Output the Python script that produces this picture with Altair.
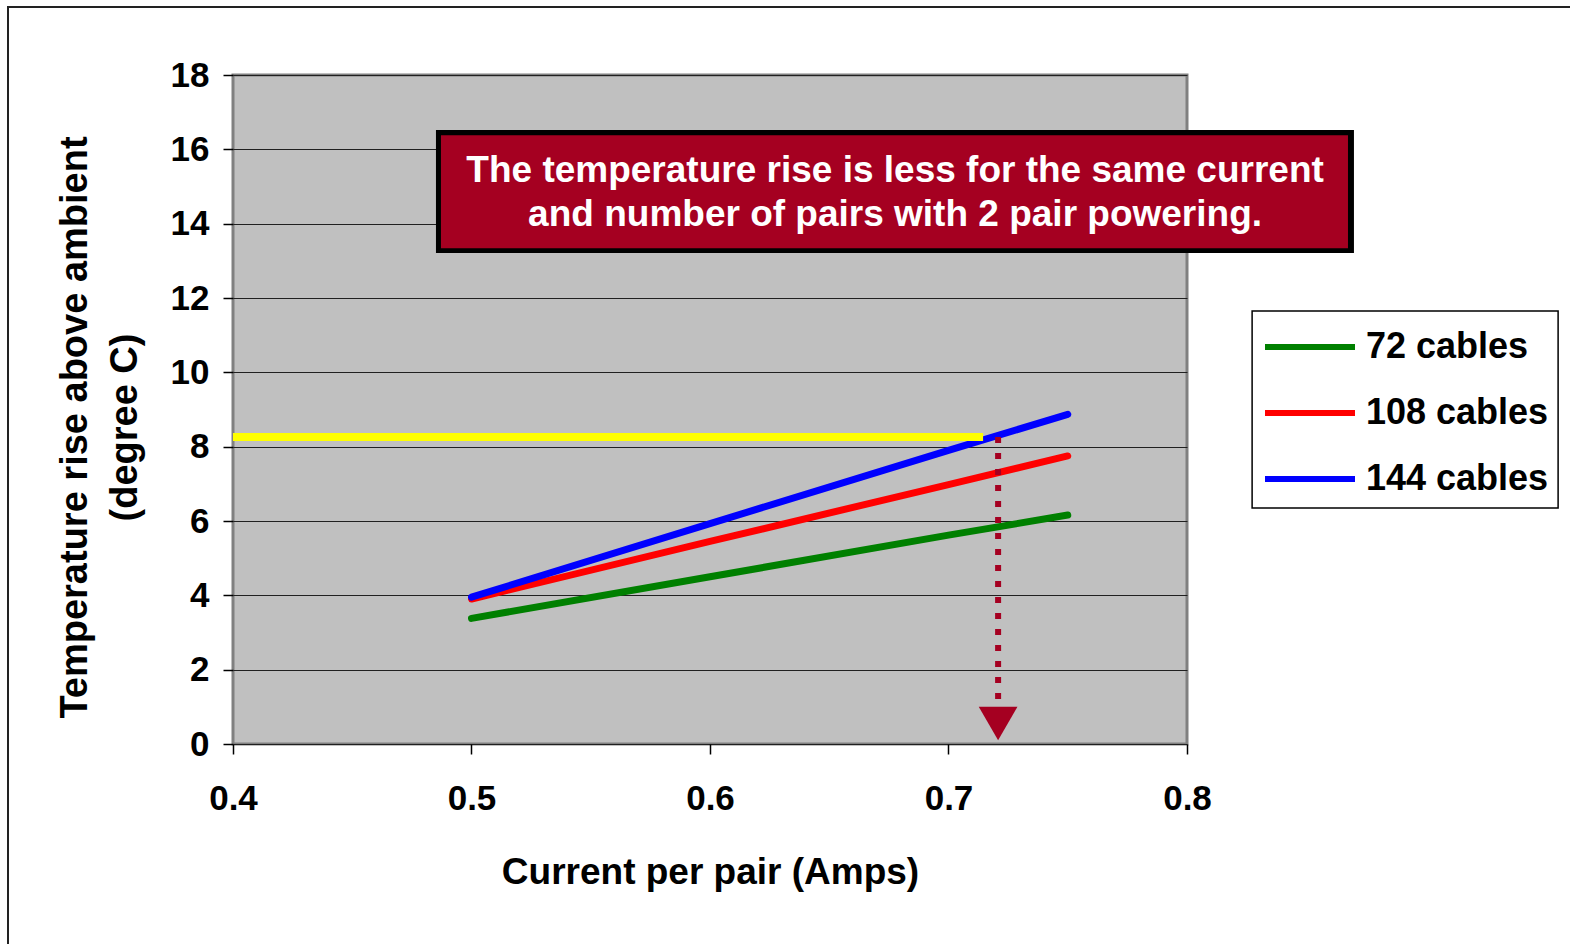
import altair as alt
import pandas as pd

# ---- data ----
currents = [0.5, 0.6, 0.7, 0.75]
rise_72 = [3.38, 4.50, 5.62, 6.16]
rise_108 = [3.90, 5.45, 6.98, 7.75]
rise_144 = [3.95, 5.93, 7.90, 8.87]
series_names = ["72 cables", "108 cables", "144 cables"]
series_colors = ["#008000", "#FF0000", "#0000FF"]

x_ticks = [0.4, 0.5, 0.6, 0.7, 0.8]
y_ticks = [0, 2, 4, 6, 8, 10, 12, 14, 16, 18]

yellow_x = [0.4, 0.7145]
yellow_y = [8.26]
arrow_x = [0.7208]
arrow_y = [8.26, 1.05]
arrow_head_y = [0.55]

box_x = [0.4851, 0.8700]
box_y = [13.21, 16.52]
box_inner_x = [0.4872, 0.8675]
box_inner_y = [13.34, 16.38]
note_lines = ["The temperature rise is less for the same current",
              "and number of pairs with 2 pair powering."]
note_x = [0.6776, 0.6776]
note_y = [15.42, 14.23]

legend_box_x = [0.8273, 0.9556]
legend_box_y = [6.35, 11.65]

FONT = "Liberation Sans"
DARKRED = "#A50021"

rows = []
for name, vals in zip(series_names, [rise_72, rise_108, rise_144]):
    for c, v in zip(currents, vals):
        rows.append({"current": c, "rise": v, "series": name})
df = pd.DataFrame(rows)

W, H = 954, 669
xs = alt.Scale(domain=[0.4, 0.8], nice=False, zero=False)
ys = alt.Scale(domain=[0, 18], nice=False)

base = alt.Chart(df)

lines = base.mark_line(strokeWidth=7, strokeCap="round", strokeJoin="round").encode(
    x=alt.X("current:Q", scale=xs,
            axis=alt.Axis(values=x_ticks, format=".1f", title="Current per pair (Amps)",
                          grid=False, labelPadding=27, titlePadding=38, labelFlush=False,
                          labelOverlap=False)),
    y=alt.Y("rise:Q", scale=ys,
            axis=alt.Axis(values=y_ticks, title=["Temperature rise above ambient", "(degree C)"],
                          grid=True, labelPadding=14, titlePadding=26, titleFontSize=38,
                          titleY=352, labelFlush=False)),
    color=alt.Color("series:N", sort=series_names,
                    scale=alt.Scale(domain=series_names, range=series_colors),
                    legend=alt.Legend(title=None, orient="none", legendX=1029, legendY=224,
                                      symbolType="stroke", symbolSize=8100,
                                      symbolStrokeWidth=6, labelFontSize=36,
                                      labelFont=FONT, labelFontWeight="bold",
                                      labelColor="black", labelOffset=8,
                                      rowPadding=0, padding=0,
                                      labelLimit=400)),
    detail="series:N",
)

border = alt.Chart(pd.DataFrame({"k": [0]})).mark_rect(
    fillOpacity=0, stroke="#222222", strokeWidth=2
).encode(x=alt.value(-225), x2=alt.value(1400), y=alt.value(-68), y2=alt.value(900))

legend_box = alt.Chart(pd.DataFrame({"x": [legend_box_x[0]], "x2": [legend_box_x[1]],
                                     "y": [legend_box_y[0]], "y2": [legend_box_y[1]]})).mark_rect(
    fill="white", stroke="black", strokeWidth=1.5
).encode(x=alt.X("x:Q", scale=xs), x2="x2:Q", y=alt.Y("y:Q", scale=ys), y2="y2:Q")

yellow = alt.Chart(pd.DataFrame({"x": [yellow_x[0]], "x2": [yellow_x[1]], "y": yellow_y})).mark_rule(
    color="#FFFF00", strokeWidth=8
).encode(x=alt.X("x:Q", scale=xs), x2="x2:Q", y=alt.Y("y:Q", scale=ys))

arrow = alt.Chart(pd.DataFrame({"x": arrow_x, "y": [arrow_y[0]], "y2": [arrow_y[1]]})).mark_rule(
    color=DARKRED, strokeWidth=6, strokeDash=[6, 10]
).encode(x=alt.X("x:Q", scale=xs), y=alt.Y("y:Q", scale=ys), y2="y2:Q")

head = alt.Chart(pd.DataFrame({"x": arrow_x, "y": arrow_head_y})).mark_point(
    shape="triangle-down", filled=True, color=DARKRED, size=1500, opacity=1
).encode(x=alt.X("x:Q", scale=xs), y=alt.Y("y:Q", scale=ys))

box_outer = alt.Chart(pd.DataFrame({"x": [box_x[0]], "x2": [box_x[1]], "y": [box_y[0]], "y2": [box_y[1]]})).mark_rect(
    color="black"
).encode(x=alt.X("x:Q", scale=xs), x2="x2:Q", y=alt.Y("y:Q", scale=ys), y2="y2:Q")

box_inner = alt.Chart(pd.DataFrame({"x": [box_inner_x[0]], "x2": [box_inner_x[1]],
                                    "y": [box_inner_y[0]], "y2": [box_inner_y[1]]})).mark_rect(
    color=DARKRED
).encode(x=alt.X("x:Q", scale=xs), x2="x2:Q", y=alt.Y("y:Q", scale=ys), y2="y2:Q")

note = alt.Chart(pd.DataFrame({"x": note_x, "y": note_y, "t": note_lines})).mark_text(
    color="white", font=FONT, fontWeight="bold", fontSize=37, align="center", baseline="middle"
).encode(x=alt.X("x:Q", scale=xs), y=alt.Y("y:Q", scale=ys), text="t:N")

chart = alt.layer(border, legend_box, lines, yellow, arrow, head, box_outer, box_inner, note).properties(
    width=W, height=H,
    autosize=alt.AutoSizeParams(type="none"),
    padding={"left": 233, "top": 75, "right": 383, "bottom": 200},
    background="white",
).configure_view(
    fill="#C0C0C0", stroke="#808080", strokeWidth=3
).configure_axis(
    domain=False,
    tickColor="black", tickSize=10, tickWidth=1.5,
    gridColor="#202020", gridWidth=1,
    labelFont=FONT, labelFontSize=35, labelFontWeight="bold", labelColor="black",
    titleFont=FONT, titleFontSize=37, titleFontWeight="bold", titleColor="black",
    titleLineHeight=50,
)

chart.save("out.html", embed_options={"renderer": "svg", "actions": False})
